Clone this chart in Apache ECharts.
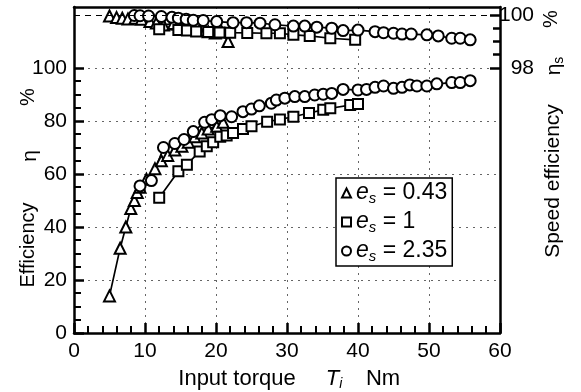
<!DOCTYPE html>
<html><head><meta charset="utf-8">
<script src="https://cdn.jsdelivr.net/npm/echarts@6/dist/echarts.min.js"></script>
<style>html,body{margin:0;padding:0;background:#fff}#c{width:581px;height:392px}</style>
</head><body><div id="c"></div>
<script>
// ---- data ----
const xTicks = [0, 10, 20, 30, 40, 50, 60];
const leftTicks = [0, 20, 40, 60, 80, 100];
const leftMinorTicks = [5,10,15,25,30,35,45,50,55,65,70,75,85,90,95];
const rightTicks = [98, 100];
const rightMinorTicks = [98.5, 99, 99.5];
const seriesNames = ['es043', 'es1', 'es235'];
const legendValues = ['0.43', '1', '2.35'];

// efficiency eta (%) vs input torque (Nm)
const triEta = [[5.0,14],[6.5,32],[7.3,40],[8.0,47],[8.5,50],[8.9,53],[9.3,55],[10.2,58],[11.4,62],[12.3,65],[13.2,67],[14.2,69],[15.2,70.5],[16.1,72],[17.0,74],[18.0,75.5],[18.9,77],[20.1,78],[21.0,79.5]];
const sqEta = [[12.0,51],[14.7,61],[15.9,63.5],[17.7,68.5],[18.7,70.5],[19.6,72],[20.6,74],[21.5,74.5],[22.4,75.5],[23.8,77],[25.0,78],[27.2,79.7],[29.0,80.6],[30.9,81.6],[33.1,83],[35.1,84.2],[36.1,84.8],[38.9,86],[40.0,86.4]];
const cirEta = [[9.3,55.5],[10.9,57.5],[12.6,70],[14.2,71.5],[15.5,73],[16.8,76],[18.4,79.5],[19.4,80.5],[20.6,82],[22.2,81.6],[23.8,83.5],[25.0,84.5],[26.1,85.7],[27.8,86.7],[28.5,87.9],[29.7,88.6],[31.1,89.2],[32.5,89.2],[33.9,89.8],[35.1,90.1],[36.3,90.4],[37.9,91.9],[40.0,91.7],[41.2,91.9],[42.4,92.7],[43.6,93.2],[45.0,92.3],[46.2,92.7],[47.3,93.6],[48.3,93.2],[49.7,93.2],[51.1,94],[53.2,94.5],[54.4,94.5],[55.8,95.2]];

// speed efficiency eta_s (%) vs input torque (Nm)
const triEtaS = [[5.0,99.96],[6.0,99.9],[6.8,99.88],[7.6,99.85],[8.6,99.88],[9.5,99.84],[10.7,99.75],[11.6,99.7],[12.6,99.62],[14.0,99.68],[14.9,99.56],[15.9,99.54],[16.8,99.46],[17.7,99.42],[18.9,99.37],[19.9,99.32],[20.8,99.36],[21.7,99.0]];
const sqEtaS = [[12.0,99.46],[14.7,99.43],[15.9,99.41],[17.2,99.38],[18.9,99.36],[20.5,99.34],[22.0,99.33],[24.4,99.32],[27.1,99.31],[29.0,99.31],[30.9,99.25],[33.2,99.21],[36.1,99.12],[39.6,99.06]];
const cirEtaS = [[8.5,99.98],[9.3,99.97],[10.5,99.96],[12.3,99.94],[13.8,99.91],[14.7,99.88],[15.8,99.84],[16.8,99.8],[18.2,99.79],[20.1,99.75],[22.4,99.71],[24.3,99.71],[26.2,99.69],[28.3,99.63],[30.9,99.58],[32.5,99.58],[34.2,99.54],[36.3,99.5],[37.9,99.41],[40,99.43],[42.4,99.37],[43.6,99.33],[45,99.31],[46.2,99.28],[47.5,99.28],[49.7,99.25],[51.3,99.21],[53.2,99.12],[54.4,99.12],[55.8,99.06]];

// ---- chart ----
const FONT = '"Liberation Sans", Arial, sans-serif';
const chart = echarts.init(document.getElementById('c'), null, {renderer: 'canvas'});
const symbols = ['triangle', 'rect', 'circle'];
const symSizes = [11, 10, 11];
function mk(name, data, sym, size, yIdx, extra) {
  return Object.assign({
    name: name, type: 'line', data: data, yAxisIndex: yIdx,
    symbol: sym, symbolSize: size, showSymbol: true,
    lineStyle: {color: '#000', width: 1.7},
    itemStyle: {color: '#fff', borderColor: '#000', borderWidth: 2},
    emphasis: {disabled: true}, animation: false, z: 3
  }, extra || {});
}
function line(show) { return {show: show !== false, onZero: false, lineStyle: {color: '#000', width: 2.5}}; }
function dotted() { return {show: true, lineStyle: {color: '#666', type: [2, 5], width: 1}}; }
function ts(w) { return {color: '#000', width: w || 2.5}; }
const option = {
  animation: false,
  grid: {left: 74, right: 81, top: 7, bottom: 59},
  legend: {
    data: seriesNames.map((n, i) => ({name: n, icon: symbols[i]})),
    orient: 'vertical', left: 336, top: 178,
    itemWidth: 9, itemHeight: 9, itemGap: 3,
    padding: [2, 5, 2, 5],
    borderColor: '#000', borderWidth: 1.5, backgroundColor: '#fff',
    itemStyle: {color: '#fff', borderColor: '#000', borderWidth: 2},
    formatter: function (n) { return '{e|e}{s|s}{t| = ' + legendValues[seriesNames.indexOf(n)] + '}'; },
    textStyle: {
      fontFamily: FONT, color: '#000', fontSize: 22, lineHeight: 25,
      rich: {
        e: {fontFamily: FONT, fontStyle: 'italic', fontSize: 23, color: '#000', lineHeight: 25},
        s: {fontFamily: FONT, fontStyle: 'italic', fontSize: 15, color: '#000', padding: [11, 0, 0, 0], lineHeight: 25},
        t: {fontFamily: FONT, fontSize: 23, color: '#000', lineHeight: 25}
      }
    }
  },
  xAxis: [{
    type: 'value', min: xTicks[0], max: xTicks[xTicks.length - 1], interval: 10, position: 'bottom',
    axisLine: line(),
    axisTick: {show: true, inside: true, length: 10, lineStyle: ts()},
    minorTick: {show: true, splitNumber: 5, length: 7, lineStyle: ts(2)},
    axisLabel: {color: '#000', fontSize: 21, fontFamily: FONT, margin: 8},
    splitLine: dotted()
  }, {
    type: 'value', min: 0, max: 60, position: 'top',
    axisLine: line(), axisTick: {show: false}, axisLabel: {show: false}, splitLine: {show: false}
  }],
  yAxis: [
    {
      type: 'value', min: 0, max: 123, position: 'left', interval: 20,
      axisLine: line(),
      axisTick: {show: true, inside: true, length: 10, customValues: leftTicks, lineStyle: ts()},
      axisLabel: {color: '#000', fontSize: 21, fontFamily: FONT, margin: 7, customValues: leftTicks},
      splitLine: dotted()
    },
    {
      type: 'value', min: 88, max: 100.3, position: 'right',
      axisLine: line(),
      axisTick: {show: true, inside: true, length: 10, customValues: rightTicks, lineStyle: ts()},
      axisLabel: {color: '#000', fontSize: 21, fontFamily: FONT, margin: 34, align: 'right', customValues: rightTicks},
      splitLine: {show: false}
    },
    {
      type: 'value', min: 88, max: 100.3, position: 'right',
      axisLine: line(false),
      axisTick: {show: true, inside: true, length: 7, customValues: rightMinorTicks, lineStyle: ts()},
      axisLabel: {show: false},
      splitLine: {show: false}
    },
    {
      type: 'value', min: 0, max: 123, position: 'left',
      axisLine: line(false),
      axisTick: {show: true, inside: true, length: 7, customValues: leftMinorTicks, lineStyle: ts(2)},
      axisLabel: {show: false},
      splitLine: {show: false}
    }
  ],
  series: [
    mk(seriesNames[0], triEta, symbols[0], symSizes[0], 0),
    mk(seriesNames[1], sqEta, symbols[1], symSizes[1], 0),
    mk(seriesNames[2], cirEta, symbols[2], symSizes[2], 0),
    mk(seriesNames[0], triEtaS, symbols[0], symSizes[0], 1),
    mk(seriesNames[1], sqEtaS, symbols[1], symSizes[1], 1),
    mk(seriesNames[2], cirEtaS, symbols[2], symSizes[2], 1, {
      markLine: {silent: true, symbol: 'none', label: {show: false},
        lineStyle: {color: '#000', type: [6, 5], width: 1.2}, data: [{yAxis: 100}], animation: false}
    })
  ],
  graphic: [
    {type: 'text', x: 237, y: 379, style: {text: 'Input torque', font: '22px ' + FONT, fill: '#000', align: 'center', verticalAlign: 'middle'}},
    {type: 'text', x: 334, y: 379, style: {
      text: '{i|T}{b|i}', align: 'center', verticalAlign: 'middle',
      rich: {i: {fontFamily: FONT, fontSize: 22, fontStyle: 'italic', fill: '#000'},
             b: {fontFamily: FONT, fontSize: 14, fontStyle: 'italic', fill: '#000', padding: [10, 0, 0, 0]}}}},
    {type: 'text', x: 383, y: 379, style: {text: 'Nm', font: '22px ' + FONT, fill: '#000', align: 'center', verticalAlign: 'middle'}},
    {type: 'text', x: 28, y: 245, rotation: Math.PI / 2, style: {text: 'Efficiency', font: '20px ' + FONT, fill: '#000', align: 'center', verticalAlign: 'middle'}},
    {type: 'text', x: 30, y: 156, rotation: Math.PI / 2, style: {text: 'η', font: '21px ' + FONT, fill: '#000', align: 'center', verticalAlign: 'middle'}},
    {type: 'text', x: 28, y: 97, rotation: Math.PI / 2, style: {text: '%', font: '20px ' + FONT, fill: '#000', align: 'center', verticalAlign: 'middle'}},
    {type: 'text', x: 553, y: 181, rotation: Math.PI / 2, style: {text: 'Speed efficiency', font: '21px ' + FONT, fill: '#000', align: 'center', verticalAlign: 'middle'}},
    {type: 'text', x: 554, y: 66, rotation: Math.PI / 2, style: {
      text: '{g|η}{b|s}', align: 'center', verticalAlign: 'middle',
      rich: {g: {fontFamily: FONT, fontSize: 21, fill: '#000'},
             b: {fontFamily: FONT, fontSize: 14, fill: '#000', padding: [10, 0, 0, 0]}}}},
    {type: 'text', x: 551, y: 19, rotation: Math.PI / 2, style: {text: '%', font: '20px ' + FONT, fill: '#000', align: 'center', verticalAlign: 'middle'}}
  ]
};
chart.setOption(option);
</script></body></html>
